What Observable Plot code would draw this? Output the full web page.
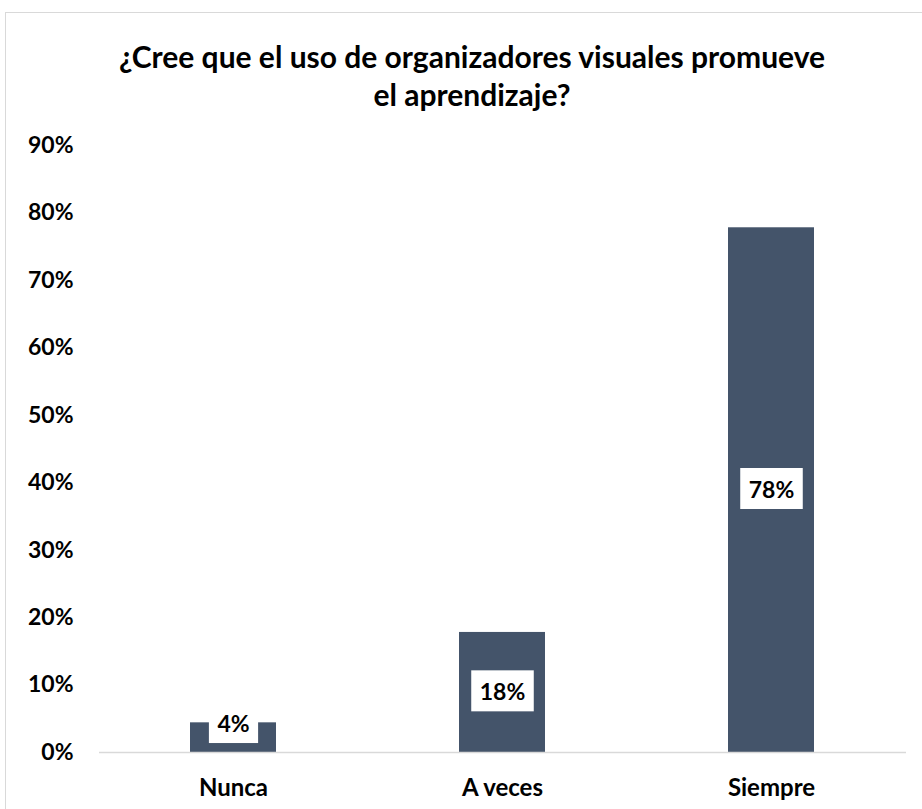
<!DOCTYPE html>
<html>
<head>
<meta charset="utf-8">
<script src="https://cdn.jsdelivr.net/npm/d3@7"></script>
<script src="https://cdn.jsdelivr.net/npm/@observablehq/plot@0.6"></script>
<style>
  html, body { margin: 0; padding: 0; background: #fff; overflow: hidden; }
  body { width: 922px; height: 809px; position: relative; font-family: Lato, "Open Sans", sans-serif; }
  #frame { position: absolute; left: 5px; top: 12px; width: 940px; height: 820px; border: 1px solid #d9d9d9; box-sizing: border-box; }
  #title { position: absolute; left: 5px; top: 37px; width: 934px; text-align: center; font-weight: 700; font-size: 30px; line-height: 38px; color: #000; }
  #chart { position: absolute; left: 0; top: 0; }
</style>
</head>
<body>
<div id="frame"></div>
<div id="title">¿Cree que el uso de organizadores visuales promueve<br>el aprendizaje?</div>
<div id="chart"></div>
<script>
const categories = ["Nunca", "A veces", "Siempre"];
const values = [0.044, 0.178, 0.778];
const labels = ["4%", "18%", "78%"];
const yTicks = [0, 0.1, 0.2, 0.3, 0.4, 0.5, 0.6, 0.7, 0.8, 0.9];

const data = categories.map((c, i) => ({ cat: c, v: values[i], label: labels[i] }));

const plot = Plot.plot({
  width: 922,
  height: 809,
  marginTop: 145,
  marginBottom: 57,
  marginLeft: 99,
  marginRight: 16,
  style: { fontFamily: "Lato, 'Open Sans', sans-serif", fontWeight: 700, fontSize: "23px", color: "#000", background: "transparent", overflow: "visible" },
  x: { domain: categories, paddingInner: 0.68, paddingOuter: 0.34, label: null, tickSize: 0, tickPadding: 26 },
  y: { domain: [0, 0.9], ticks: yTicks, tickFormat: d3.format(".0%"), label: null, tickSize: 0, tickPadding: 26 },
  marks: [
    Plot.barY(data, { x: "cat", y: "v", fill: "#44546A" }),
    Plot.ruleY([0], { stroke: "#d9d9d9", strokeWidth: 1.5 }),
    Plot.axisX({ tickSize: 0, tickPadding: 26, fontSize: 24, fontWeight: 700 }),
    Plot.text(data, {
      x: "cat",
      y: d => Math.max(d.v / 2, 0.042),
      text: "label",
      fill: "#000",
      fontSize: 23,
      fontWeight: 700
    })
  ]
});
document.getElementById("chart").appendChild(plot);

// white boxes behind value labels
const labelSet = new Set(labels);
plot.querySelectorAll('g[aria-label="text"] text').forEach(t => {
  if (!labelSet.has(t.textContent)) return;
  const b = t.getBBox();
  const padX = 8.5, padY = 6.5;
  const r = document.createElementNS("http://www.w3.org/2000/svg", "rect");
  r.setAttribute("x", b.x - padX);
  r.setAttribute("y", b.y - padY);
  r.setAttribute("width", b.width + 2 * padX);
  r.setAttribute("height", b.height + 2 * padY);
  r.setAttribute("fill", "#fff");
  r.setAttribute("stroke", "none");
  const tr = t.getAttribute("transform");
  if (tr) r.setAttribute("transform", tr);
  t.parentNode.insertBefore(r, t);
});
</script>
</body>
</html>
